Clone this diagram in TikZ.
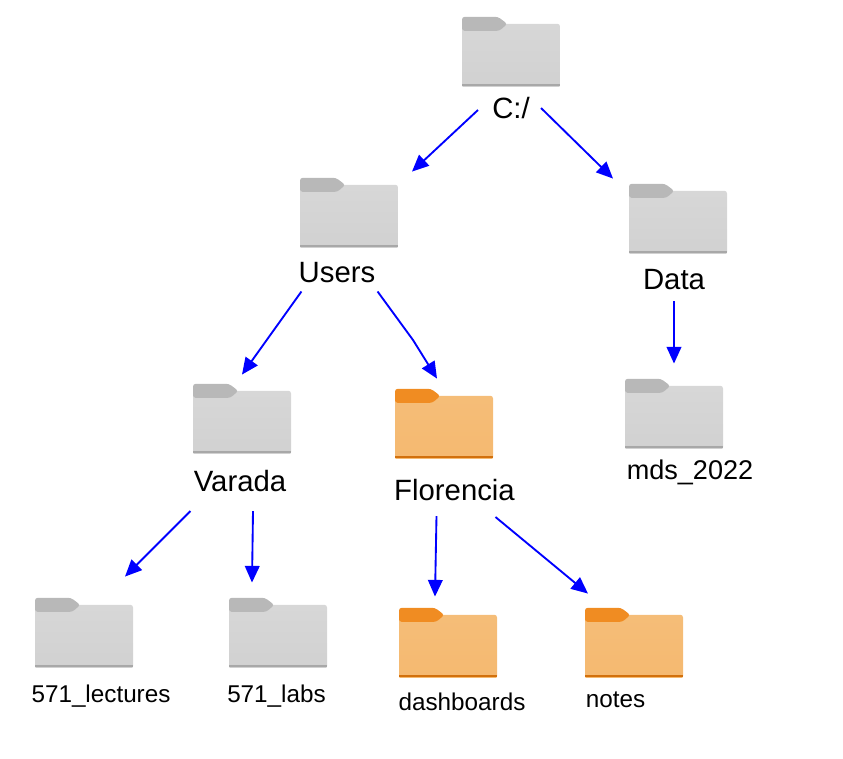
\documentclass[tikz,border=0pt]{standalone}
\usepackage{fontspec}
\setmainfont{Liberation Sans}
\usetikzlibrary{arrows.meta}
\definecolor{greytop}{HTML}{D7D7D7}
\definecolor{greybottom}{HTML}{D1D1D1}
\definecolor{greytab}{HTML}{B8B8B8}
\definecolor{greyline}{HTML}{A8A8A8}
\definecolor{orangetop}{HTML}{F5BD78}
\definecolor{orangebottom}{HTML}{F5B970}
\definecolor{orangetab}{HTML}{F08C22}
\definecolor{orangeline}{HTML}{D2700C}
\tikzset{
    arrow/.style={line width=1.4pt, blue, -{Triangle[length=12.5pt,width=11pt]}},
    bigname/.style={font=\fontsize{22}{26}\selectfont, inner sep=0pt},
    midname/.style={font=\fontsize{20.3}{24}\selectfont, inner sep=0pt},
    smallname/.style={font=\fontsize{18.2}{22}\selectfont, inner sep=0pt},
    folder/.style n args={4}{minimum width=73.5pt, minimum height=52pt, inner sep=0pt,
        path picture={
            \coordinate (nw) at (path picture bounding box.north west);
            \shade[top color=#1, bottom color=#2, rounded corners=2pt] ([yshift=-5.2pt]nw) -- ++(73.5pt,0) -- ++(0,-48pt) -- ++(-73.5pt,0) -- cycle;
            \fill[#3, rounded corners=2pt] ([yshift=-10.5pt]nw) -- ++(0,10.5pt) -- ++(27pt,0) -- ++(7pt,-5.3pt) -- ++(-6pt,-5.2pt) -- cycle;
            \fill[#4] ([yshift=-50.7pt]nw) rectangle ++(73.5pt,-1pt);
        }},
    greyfolder/.style={folder={greytop}{greybottom}{greytab}{greyline}},
    orangefolder/.style={folder={orangetop}{orangebottom}{orangetab}{orangeline}},
}
\begin{document}
\begin{tikzpicture}[x=0.75pt,y=-0.75pt]
  \useasboundingbox (0,0) rectangle (843,759);

  % folders
  \node[greyfolder] (rootdir) at (511,51.5) {};
  \node[greyfolder] (usersdir) at (349,212.5) {};
  \node[greyfolder] (datadir) at (678,218.5) {};
  \node[greyfolder] (varadadir) at (242,418.5) {};
  \node[orangefolder] (florenciadir) at (444,423.5) {};
  \node[greyfolder] (mdsdir) at (674,413.5) {};
  \node[greyfolder] (lecturesdir) at (84,632.5) {};
  \node[greyfolder] (labsdir) at (278,632.5) {};
  \node[orangefolder] (dashdir) at (448,642.5) {};
  \node[orangefolder] (notesdir) at (634,642.5) {};

  % names
  \node[bigname] (rootname) at (511,108) {C:/};
  \node[bigname] (usersname) at (337,273) {Users};
  \node[bigname] (dataname) at (674,280) {Data};
  \node[bigname] (varadaname) at (240,481) {Varada};
  \node[bigname] (florencianame) at (454.5,490) {Florencia};
  \node[midname] (mdsname) at (690,472) {mds\_2022};
  \node[smallname] (lecturesname) at (101,696) {571\_lectures};
  \node[smallname] (labsname) at (276.5,696) {571\_labs};
  \node[smallname] (dashname) at (462,702) {dashboards};
  \node[smallname] (notesname) at (615.5,700) {notes};
  \coordinate (usersbend) at (413,340);

  % arrows
  \draw ([shift={(-14,2)}]rootname.west) edge[arrow] ([shift={(63,-6)}]usersdir.north);
  \draw ([shift={(11,0)}]rootname.east) edge[arrow] ([shift={(-65,-5)}]datadir.north);
  \draw ([shift={(3,8)}]usersname.south west) edge[arrow] ([shift={(0,-9)}]varadadir.north);
  \draw[arrow] ([shift={(2,8)}]usersname.south east) -- (usersbend) -- ([shift={(-7,-10)}]florenciadir.north);
  \draw ([shift={(0,11)}]dataname.south) edge[arrow] ([shift={(0,-15)}]mdsdir.north);
  \draw ([shift={(-3,19)}]varadaname.south west) edge[arrow] ([shift={(41,-21)}]lecturesdir.north);
  \draw ([shift={(13,19)}]varadaname.south) edge[arrow] ([shift={(-26,-15)}]labsdir.north);
  \draw ([shift={(-18,15)}]florencianame.south) edge[arrow] ([shift={(-13,-11)}]dashdir.north);
  \draw ([shift={(41,16)}]florencianame.south) edge[arrow] ([shift={(-46,-14)}]notesdir.north);
\end{tikzpicture}
\end{document}
